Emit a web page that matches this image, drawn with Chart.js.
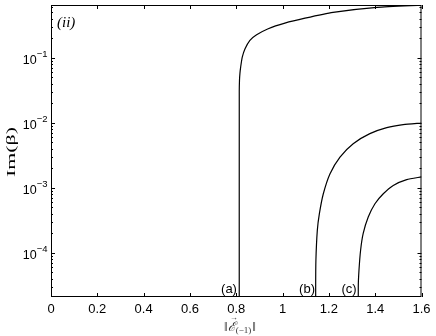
<!DOCTYPE html>
<html>
<head>
    <title>Im(beta) branches</title>
    <script src="https://cdn.jsdelivr.net/npm/chart.js"></script>
    <style>
html, body { margin: 0; padding: 0; background: #fff; }
.chart { width: 436px; height: 336px; }
    </style>
</head>
<body>
  <div class="chart"><canvas id="myChart"></canvas></div>
    <script>
        // curve (a)
        const aX = [0.813, 0.813, 0.814, 0.816, 0.819, 0.826, 0.838, 0.859, 0.888, 0.938, 1.010, 1.097, 1.218, 1.408, 1.6];
        const aY = [1e-6, 0.03, 0.045, 0.058, 0.0717, 0.102, 0.137, 0.185, 0.225, 0.279, 0.340, 0.405, 0.497, 0.593, 0.640];
        // curve (b)
        const bX = [1.143, 1.143, 1.144, 1.150, 1.159, 1.176, 1.205, 1.248, 1.305, 1.377, 1.450, 1.521, 1.6];
        const bY = [1e-6, 3e-5, 7.7e-5, 2.2e-4, 4.0e-4, 8.1e-4, 1.65e-3, 2.97e-3, 4.77e-3, 6.8e-3, 8.4e-3, 9.35e-3, 9.9e-3];
        // curve (c)
        const cX = [1.327, 1.327, 1.330, 1.337, 1.348, 1.370, 1.399, 1.435, 1.478, 1.536, 1.6];
        const cY = [1e-6, 3e-5, 5.4e-5, 1.1e-4, 1.98e-4, 3.56e-4, 5.7e-4, 8.1e-4, 1.09e-3, 1.34e-3, 1.47e-3];

        // axes
        const xTicks = [0, 0.2, 0.4, 0.6, 0.8, 1, 1.2, 1.4, 1.6];
        const yPowers = [-1, -2, -3, -4];
        const yMin = 2.1e-5;
        const yMax = 0.645;

        // curve labels
        const noteText = ['(a)', '(b)', '(c)'];
        const noteX = [0.803, 1.140, 1.320];
        const noteY = [2.76e-5, 2.76e-5, 2.76e-5];

        const pts = (xs, ys) => xs.map((x, i) => ({ x: x, y: ys[i] }));
        const sans = '"Liberation Sans", Arial, sans-serif';
        const serif = '"Liberation Serif", "Times New Roman", serif';

        const lineStyle = {
          showLine: true,
          borderColor: '#000',
          borderWidth: 1.2,
          pointRadius: 0,
          tension: 0.2,
          fill: false,
        };

        // frame, inward ticks, power-of-ten labels and texts
        const decor = {
          id: 'decor',
          afterDraw(chart) {
            const c = chart.ctx;
            const a = chart.chartArea;
            const xs = chart.scales.x;
            const ys = chart.scales.y;
            c.save();
            c.strokeStyle = '#000';
            c.lineWidth = 1;
            c.strokeRect(a.left + 0.5, a.top + 0.5, a.right - a.left - 1, a.bottom - a.top - 1);

            c.beginPath();
            xTicks.forEach(v => {
              const px = Math.round(xs.getPixelForValue(v)) + 0.5;
              c.moveTo(px, a.bottom); c.lineTo(px, a.bottom - 4);
              c.moveTo(px, a.top); c.lineTo(px, a.top + 4);
            });
            for (let p = -5; p <= 0; p++) {
              for (let m = 1; m <= 9; m++) {
                const v = m * Math.pow(10, p);
                if (v < yMin || v > yMax) continue;
                const py = Math.round(ys.getPixelForValue(v)) + 0.5;
                const len = m === 1 ? 4 : 2;
                c.moveTo(a.left, py); c.lineTo(a.left + len, py);
                c.moveTo(a.right, py); c.lineTo(a.right - len, py);
              }
            }
            c.stroke();

            // y labels 10^p
            c.fillStyle = '#000';
            c.textBaseline = 'alphabetic';
            yPowers.forEach(p => {
              const py = ys.getPixelForValue(Math.pow(10, p));
              const exp = '\u2212' + Math.abs(p);
              c.font = '9.5px ' + sans;
              const ew = c.measureText(exp).width;
              c.textAlign = 'left';
              c.fillText(exp, 47.5 - ew, py - 1);
              c.font = '12.5px ' + sans;
              c.textAlign = 'right';
              c.fillText('10', 47.5 - ew, py + 6);
            });

            // curve labels
            c.font = '13px ' + sans;
            c.textAlign = 'right';
            c.textBaseline = 'middle';
            noteText.forEach((t, i) => {
              c.fillText(t, xs.getPixelForValue(noteX[i]), ys.getPixelForValue(noteY[i]));
            });

            // panel tag
            c.font = 'italic 15px ' + serif;
            c.textAlign = 'left';
            c.fillText('(ii)', a.left + 6, a.top + 18);

            // y title, stretched along its length like the reference
            c.save();
            c.translate(12, 152);
            c.rotate(-Math.PI / 2);
            c.font = '13px ' + serif;
            c.textAlign = 'center';
            c.textBaseline = 'middle';
            const tw = c.measureText('Im(\u03b2)').width;
            c.scale(50 / tw, 1);
            c.fillText('Im(\u03b2)', 0, 0);
            c.restore();

            // x title ||E_(-1)||
            const cx = 240;
            const by = 331;
            c.fillStyle = '#333';
            c.textBaseline = 'alphabetic';
            c.font = '13px ' + serif;
            const w1 = c.measureText('\u2016').width;
            c.font = 'italic 13px ' + serif;
            const wE = c.measureText('\u2130').width;
            c.font = '9px ' + serif;
            const wS = c.measureText('(\u22121)').width;
            const total = w1 * 2 + wE + wS + 1;
            let x0 = cx - total / 2;
            c.font = '13px ' + serif;
            c.textAlign = 'left';
            c.fillText('\u2016', x0, by);
            x0 += w1;
            c.font = 'italic 13px ' + serif;
            c.fillText('\u2130', x0, by);
            c.font = '8px ' + serif;
            c.fillText('\u2192', x0 + 2, by - 11);
            x0 += wE;
            c.font = '9px ' + serif;
            c.fillText('(\u22121)', x0, by + 2);
            x0 += wS + 1;
            c.font = '13px ' + serif;
            c.fillText('\u2016', x0, by);
            c.restore();
          }
        };

        const ctx = document.getElementById('myChart').getContext('2d');
        const chart = new Chart(ctx, {
          type: 'scatter',
          data: {
            datasets: [
              Object.assign({ label: '(a)', data: pts(aX, aY) }, lineStyle),
              Object.assign({ label: '(b)', data: pts(bX, bY) }, lineStyle),
              Object.assign({ label: '(c)', data: pts(cX, cY) }, lineStyle),
            ],
          },
          options: {
            responsive: true,
            maintainAspectRatio: false,
            animation: false,
            layout: { padding: { top: 5, right: 14.5, left: 0, bottom: 0 } },
            plugins: { legend: { display: false }, tooltip: { enabled: false } },
            scales: {
              x: {
                type: 'linear',
                min: 0,
                max: 1.6,
                afterBuildTicks: s => { s.ticks = xTicks.map(v => ({ value: v })); },
                grid: { display: false, drawTicks: false },
                border: { display: false },
                ticks: {
                  color: '#000',
                  padding: 5,
                  maxRotation: 0,
                  autoSkip: false,
                  font: { family: sans, size: 13 },
                  callback: v => String(Math.round(v * 10) / 10),
                },
                afterFit: s => { s.height = 39; },
              },
              y: {
                type: 'logarithmic',
                min: yMin,
                max: yMax,
                grid: { display: false, drawTicks: false },
                border: { display: false },
                ticks: { display: false },
                afterFit: s => { s.width = 51; },
              },
            },
          },
          plugins: [decor],
        });
    </script>
</body>
</html>
